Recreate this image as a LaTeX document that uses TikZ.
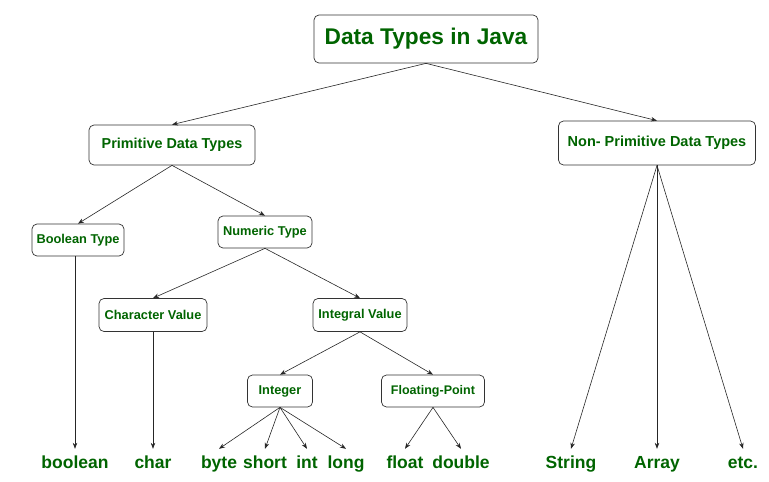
\documentclass[tikz,border=0pt]{standalone}
\usepackage{fontspec}
\setmainfont{Liberation Sans}
\usetikzlibrary{arrows.meta}
\definecolor{jgreen}{RGB}{0,100,0}
\tikzset{
	typebox/.style={draw=black!80, rounded corners=5pt, line width=0.7pt, inner sep=0pt, font=\bfseries, text=jgreen},
	leaf/.style={inner sep=0pt, anchor=base, text height=19pt, text depth=4pt, font=\fontsize{17.5}{20}\selectfont\bfseries, text=jgreen},
	link/.style={draw=black!85, line width=0.6pt, -{Stealth[length=6pt,width=4.5pt]}}
}
\begin{document}
\begin{tikzpicture}[x=1pt, y=-1pt]
	\useasboundingbox (0,0) rectangle (769,482);
	% boxes
	\node[typebox, minimum width=224pt, minimum height=48pt, font=\fontsize{22.7}{26}\selectfont\bfseries] (java) at (426,39) {Data Types in Java};
	\node[typebox, minimum width=166pt, minimum height=40pt, font=\fontsize{14.4}{16}\selectfont\bfseries] (prim) at (172,145) {Primitive Data Types};
	\node[typebox, minimum width=197pt, minimum height=44pt, font=\fontsize{14.5}{16}\selectfont\bfseries] (nonprim) at (657,143) {Non- Primitive Data Types};
	\node[typebox, minimum width=92pt, minimum height=32pt, font=\fontsize{12.8}{14}\selectfont\bfseries] (bool) at (78,240) {Boolean Type};
	\node[typebox, minimum width=94pt, minimum height=32pt, font=\fontsize{12.8}{14}\selectfont\bfseries] (num) at (265,232) {Numeric Type};
	\node[typebox, minimum width=108pt, minimum height=33pt, font=\fontsize{12.8}{14}\selectfont\bfseries] (charval) at (153,315) {Character Value};
	\node[typebox, minimum width=94pt, minimum height=33pt, font=\fontsize{12.8}{14}\selectfont\bfseries] (intval) at (360,315) {Integral Value};
	\node[typebox, minimum width=65pt, minimum height=32pt, font=\fontsize{12.8}{14}\selectfont\bfseries] (integer) at (280,391) {Integer};
	\node[typebox, minimum width=103pt, minimum height=32pt, font=\fontsize{12.5}{14}\selectfont\bfseries] (floatpt) at (433,391) {Floating-Point};
	% bottom row
	\foreach \name/\x/\txt in {boolean/75/boolean, char/153/char, byte/219/byte, short/265/short, int/307/int, long/346/long, float/405/float, double/461/double, string/571/String, array/657/Array, etc/743/etc.}{\node[leaf] (\name) at (\x,468) {\txt};};
	% links
	\draw[link] (java.south) -- (prim.north);
	\draw[link] (java.south) -- (nonprim.north);
	\draw[link] (prim.south) -- (bool.north);
	\draw[link] (prim.south) -- (num.north);
	\draw[link] (num.south) -- (charval.north);
	\draw[link] (num.south) -- (intval.north);
	\draw[link] (intval.south) -- (integer.north);
	\draw[link] (intval.south) -- (floatpt.north);
	\draw[link] (bool.south -| boolean.north) -- (boolean.north);
	\draw[link] (charval.south) -- (char.north);
	\foreach \leafname in {byte,short,int,long}{\draw[link] (integer.south) -- (\leafname.north);};
	\foreach \leafname in {float,double}{\draw[link] (floatpt.south) -- (\leafname.north);};
	\foreach \leafname in {string,array,etc}{\draw[link] (nonprim.south) -- (\leafname.north);};
\end{tikzpicture}
\end{document}
